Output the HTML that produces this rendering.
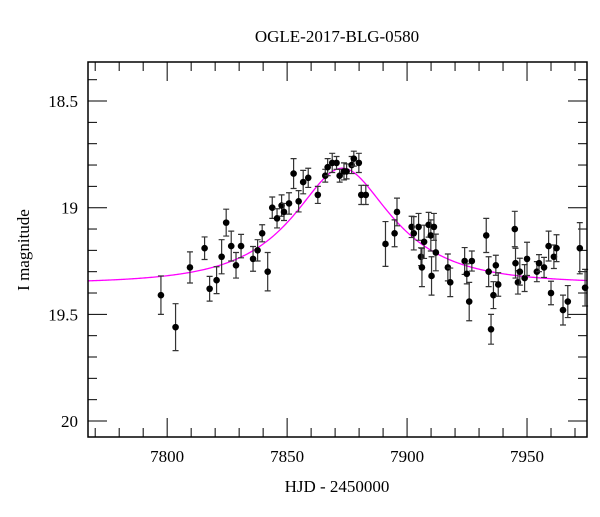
<!DOCTYPE html>
<html><head><meta charset="utf-8"><style>
html,body{margin:0;padding:0;background:#fff;}
svg text{font-family:"Liberation Serif",serif;fill:#000;}
</style></head><body>
<svg id="chart" width="600" height="512" viewBox="0 0 600 512" xmlns="http://www.w3.org/2000/svg">
<text x="337" y="42" font-size="17" text-anchor="middle">OGLE-2017-BLG-0580</text>
<text x="337" y="492" font-size="17" text-anchor="middle">HJD - 2450000</text>
<text x="0" y="0" font-size="17" text-anchor="middle" transform="translate(29,250) rotate(-90)">I magnitude</text>
<g id="ticks"></g>
<g id="curve"></g>
<g id="points"></g>
<rect x="88" y="62" width="499" height="375" fill="none" stroke="#000" stroke-width="1.5"/>
</svg>
<script>
const hjd = [7797.4,7803.5,7809.5,7815.6,7817.7,7820.6,7822.7,7824.6,7826.7,7828.7,7830.8,7835.8,7837.7,7839.6,7841.9,7843.8,7845.8,7847.7,7848.7,7850.8,7852.7,7854.8,7856.7,7858.8,7862.8,7865.9,7866.9,7868.8,7870.6,7871.9,7873.7,7874.8,7876.9,7877.8,7879.9,7880.9,7882.8,7891,7894.8,7895.8,7901.9,7902.8,7904.8,7905.8,7906.2,7907.1,7909,7909.9,7910.2,7911.2,7912,7917,7918,7924,7924.9,7925.9,7927,7933,7934,7935,7936,7937,7938,7944.9,7945.2,7946.2,7947,7949,7950,7954.1,7955,7957.1,7959,7960,7961.2,7962.3,7965,7967,7972,7974.2];
const mag = [19.41,19.56,19.28,19.19,19.38,19.34,19.23,19.07,19.18,19.27,19.18,19.24,19.20,19.12,19.30,19.00,19.05,18.99,19.02,18.98,18.84,18.97,18.88,18.86,18.94,18.85,18.81,18.79,18.79,18.85,18.83,18.83,18.80,18.77,18.79,18.94,18.94,19.17,19.12,19.02,19.09,19.12,19.09,19.23,19.28,19.16,19.08,19.13,19.32,19.09,19.21,19.28,19.35,19.25,19.31,19.44,19.25,19.13,19.30,19.57,19.41,19.27,19.36,19.10,19.26,19.35,19.30,19.33,19.24,19.30,19.26,19.28,19.18,19.40,19.23,19.19,19.48,19.44,19.19,19.375];
const magErr = [0.09,0.11,0.073,0.053,0.058,0.063,0.08,0.063,0.07,0.06,0.055,0.058,0.05,0.04,0.09,0.05,0.045,0.05,0.04,0.05,0.07,0.05,0.055,0.045,0.04,0.03,0.04,0.045,0.03,0.03,0.04,0.035,0.04,0.035,0.045,0.045,0.045,0.105,0.063,0.065,0.05,0.078,0.063,0.042,0.09,0.078,0.058,0.073,0.09,0.063,0.086,0.063,0.067,0.063,0.047,0.09,0.047,0.08,0.07,0.07,0.063,0.047,0.055,0.083,0.07,0.055,0.063,0.063,0.078,0.047,0.04,0.047,0.07,0.055,0.055,0.063,0.07,0.075,0.12,0.086];
const xTicks = [7800,7850,7900,7950];
const yTicks = [18.5,19,19.5,20];
const yTickLabels = ["18.5","19","19.5","20"];
// model parameters: [t0, tE, u0, source fraction, baseline mag]
const modelParams = [7873, 38, 0.5, 0.545, 19.355];

const NS = "http://www.w3.org/2000/svg";
const L=88, R=587, T=62, B=437;
const xMin=7767, xMax=7975, yMin=18.317, yMax=20.075;
const xs = v => L + (v - xMin) / (xMax - xMin) * (R - L);
const ys = v => T + (v - yMin) / (yMax - yMin) * (B - T);
function mk(tag, attrs, parent){const e=document.createElementNS(NS,tag);for(const k in attrs)e.setAttribute(k,attrs[k]);parent.appendChild(e);return e;}

const tg = document.getElementById('ticks');
for (let d=7770; d<=7975; d+=10){
  const major = d%50===0, len = major?19:9, x=xs(d);
  const t1=mk('line',{x1:x,y1:B,x2:x,y2:B-len,stroke:'#000','stroke-width':1},tg);
  
  
  const t2=mk('line',{x1:x,y1:T,x2:x,y2:T+len,stroke:'#000','stroke-width':1},tg);
  
  
}
xTicks.forEach(v=>{
  const t=mk('text',{x:xs(v),y:B+25,'font-size':17,'text-anchor':'middle'},tg);
  t.textContent=String(v);
  
  
});
for (let i=184; i<=200; i++){
  const m=i/10, major=(i%5===0), len=major?19:9, y=ys(m);
  if (y<T||y>B) continue;
  const t1=mk('line',{x1:L,y1:y,x2:L+len,y2:y,stroke:'#000','stroke-width':1},tg);
  
  
  const t2=mk('line',{x1:R,y1:y,x2:R-len,y2:y,stroke:'#000','stroke-width':1},tg);
  
  
}
yTicks.forEach((v,i)=>{
  const t=mk('text',{x:78,y:ys(v)+6,'font-size':17,'text-anchor':'end'},tg);
  t.textContent=yTickLabels[i];
  
  
});

// model curve
const [t0,tE,u0,fs,base]=modelParams;
let dstr='';
for (let d=xMin; d<=xMax; d+=0.5){
  const tau=(d-t0)/tE, u=Math.sqrt(u0*u0+tau*tau);
  const A=(u*u+2)/(u*Math.sqrt(u*u+4));
  const m=base-2.5*Math.log10(1+fs*(A-1));
  dstr+=(dstr?'L':'M')+xs(d).toFixed(2)+','+ys(m).toFixed(2);
}
const cv=mk('path',{d:dstr,fill:'none',stroke:'#ff00ff','stroke-width':1.3},document.getElementById('curve'));



// data points
const pg=document.getElementById('points');
hjd.forEach((d,i)=>{
  const x=xs(d), y=ys(mag[i]), y1=ys(mag[i]-magErr[i]), y2=ys(mag[i]+magErr[i]);
  const eb=mk('path',{d:`M${x},${y1}L${x},${y2}M${x-3},${y1}L${x+3},${y1}M${x-3},${y2}L${x+3},${y2}`,stroke:'#333','stroke-width':1.2,fill:'none'},pg);
  
  
  const c=mk('circle',{cx:x,cy:y,r:3.3,fill:'#000'},pg);
  
  
});
</script>
</body></html>
